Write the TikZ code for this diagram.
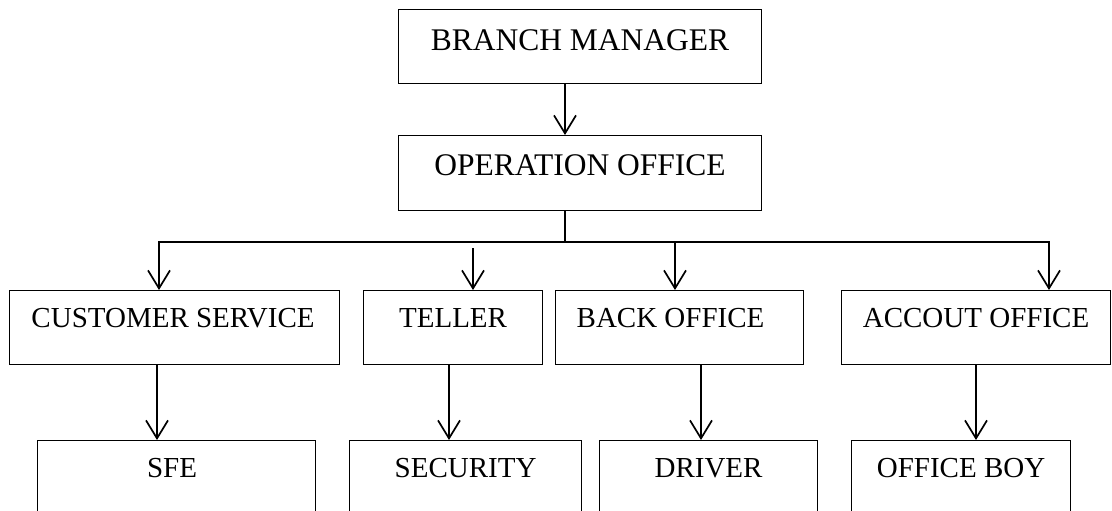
\documentclass[tikz,border=0pt]{standalone}
\usepackage{fontspec}
\setmainfont{Liberation Serif}
\usetikzlibrary{arrows.meta}
\begin{document}
\begin{tikzpicture}[x=1pt,y=-1pt,
  box/.style={draw, line width=1.1pt, rectangle, inner sep=0pt, anchor=north west},
  topbox/.style={box, minimum height=74pt, text height=41pt, text depth=33pt, font=\fontsize{31.5}{36}\selectfont},
  midbox/.style={box, minimum height=74pt, text height=37pt, text depth=37pt, font=\fontsize{29}{34}\selectfont},
  conn/.style={line width=1.7pt, line join=miter},
  arr/.style={conn, -{Straight Barb[length=18pt,width=22pt]}},
  darr/.style={conn, {Straight Barb[length=18pt,width=22pt]}-{Straight Barb[length=18pt,width=22pt]}}]
\useasboundingbox (0,0) rectangle (1112,511);
\clip (0,0) rectangle (1112,511);
% boxes
\node[topbox, minimum width=363pt] (bm) at (398,9) {BRANCH MANAGER};
\node[topbox, minimum width=363pt, minimum height=75pt, text height=40pt, text depth=35pt] (oo) at (398,135) {OPERATION OFFICE};
\node[midbox, minimum width=330pt] (cs) at (9,290) {CUSTOMER SERVICE\kern3pt};
\node[midbox, minimum width=179pt] (te) at (363,290) {TELLER};
\node[midbox, minimum width=248pt] (bo) at (555,290) {BACK OFFICE\kern18pt};
\node[midbox, minimum width=269pt] (ao) at (841,290) {ACCOUT OFFICE};
\node[midbox, minimum width=278pt] (sfe) at (37,440) {SFE\kern9pt};
\node[midbox, minimum width=232pt] (sec) at (349,440) {SECURITY};
\node[midbox, minimum width=218pt] (drv) at (599,440) {DRIVER};
\node[midbox, minimum width=219pt] (ob) at (851,440) {OFFICE BOY};
% connector positions
\coordinate (xa) at (565,0);
\coordinate (bus) at (0,242);
\coordinate (xcs) at (159,0);
\coordinate (tstart) at (473,248);
\coordinate (xbo) at (675,0);
\coordinate (xao) at (1049,0);
\coordinate (x1) at (157,0);
\coordinate (x2) at (449,0);
\coordinate (x3) at (701,0);
\coordinate (x4) at (976,0);
% connectors
\draw[arr] (bm.south -| xa) -- (oo.north -| xa);
\draw[conn] (oo.south -| xa) -- (bus -| xa);
\draw[darr] (cs.north -| xcs) -- (bus -| xcs) -- (bus -| xao) -- (ao.north -| xao);
\draw[arr] (tstart) -- (te.north -| tstart);
\draw[arr] (bus -| xbo) -- (bo.north -| xbo);
\draw[arr] (cs.south -| x1) -- (sfe.north -| x1);
\draw[arr] (te.south -| x2) -- (sec.north -| x2);
\draw[arr] (bo.south -| x3) -- (drv.north -| x3);
\draw[arr] (ao.south -| x4) -- (ob.north -| x4);
\end{tikzpicture}
\end{document}
